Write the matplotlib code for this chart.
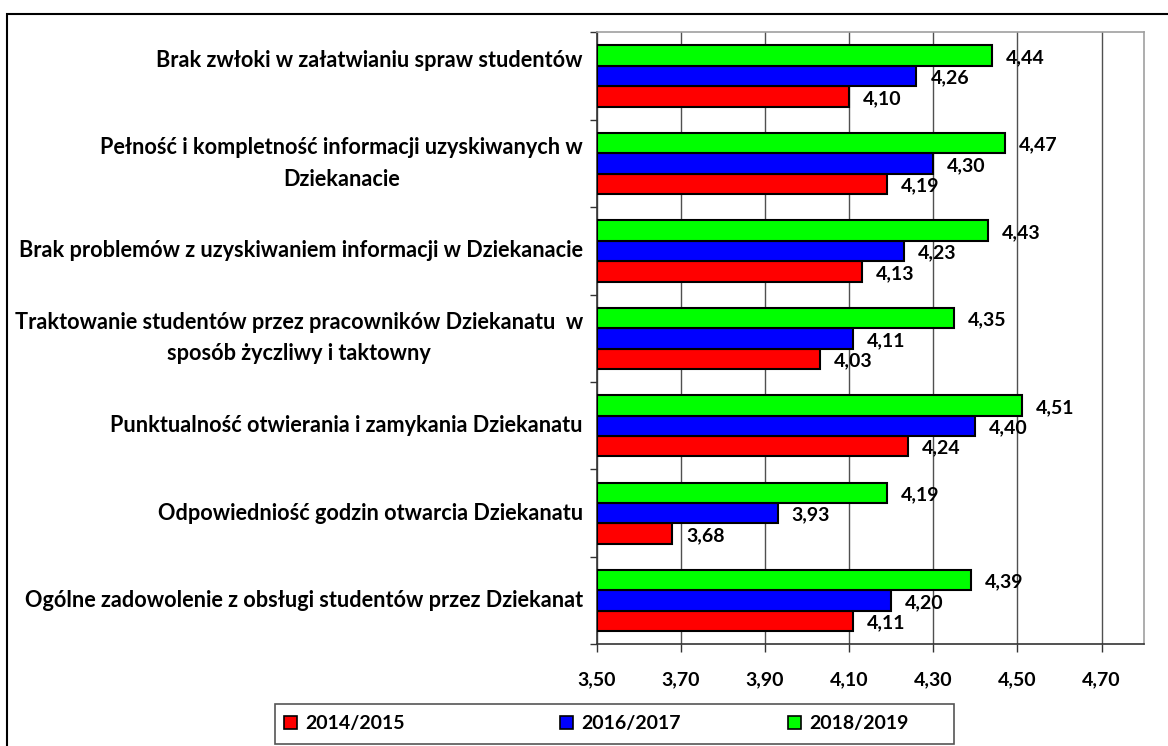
import matplotlib
matplotlib.use("Agg")
import matplotlib.pyplot as plt
from matplotlib.patches import Rectangle, Patch
from matplotlib.ticker import FixedLocator
import numpy as np

plt.rcParams['font.family'] = ['Lato', 'DejaVu Sans']

categories = [
    "Brak zwłoki w załatwianiu spraw studentów\n ",
    "Pełność i kompletność informacji uzyskiwanych w\nDziekanacie",
    "Brak problemów z uzyskiwaniem informacji w Dziekanacie",
    "Traktowanie studentów przez pracowników Dziekanatu  w\nsposób życzliwy i taktowny",
    "Punktualność otwierania i zamykania Dziekanatu",
    "Odpowiedniość godzin otwarcia Dziekanatu",
    "Ogólne zadowolenie z obsługi studentów przez Dziekanat",
]
series_names = ["2014/2015", "2016/2017", "2018/2019"]
v_2014 = [4.10, 4.19, 4.13, 4.03, 4.24, 3.68, 4.11]
v_2016 = [4.26, 4.30, 4.23, 4.11, 4.40, 3.93, 4.20]
v_2018 = [4.44, 4.47, 4.43, 4.35, 4.51, 4.19, 4.39]
x_ticks = [3.50, 3.70, 3.90, 4.10, 4.30, 4.50, 4.70]

colors = ["#FF0000", "#0000FF", "#00FF00"]
W, H = 1168, 746
fig = plt.figure(figsize=(W / 100, H / 100), dpi=100)
ax = fig.add_axes([596.7 / W, 1 - 644.3 / H, (1143.7 - 596.7) / W, (644.3 - 32.3) / H])

y = np.arange(len(categories))
bh = 0.2336
series = [v_2014, v_2016, v_2018]
offsets = [bh, 0.0, -bh]
FS_NUM = 14
FS_CAT = 15.6
for vals, off, c in zip(series, offsets, colors):
    ax.barh(y + off, np.array(vals) - 3.5, left=3.5, height=bh, color=c,
            edgecolor='black', linewidth=1.5, zorder=3)
    for yi, v in zip(y, vals):
        ax.annotate(f"{v:.2f}".replace('.', ','), xy=(v, yi + off),
                    xytext=(10, -1.5), textcoords='offset points',
                    ha='left', va='center', fontsize=FS_NUM, fontweight='bold',
                    zorder=4)

ax.set_xlim(3.5, 4.8)
ax.set_ylim(len(categories) - 0.5, -0.5)
ax.set_xticks(x_ticks)
ax.set_xticklabels([f"{t:.2f}".replace('.', ',') for t in x_ticks],
                   fontsize=FS_NUM, fontweight='bold')
ax.tick_params(axis='x', length=6, width=1, pad=13.5, direction='out', color='#333333')

# category labels
ax.set_yticks(y)
ax.set_yticklabels([])
ytrans = ax.get_yaxis_transform()
for yi, cat in zip(y, categories):
    ax.annotate(cat, xy=(0, yi), xycoords=ytrans, xytext=(-10, 0),
                textcoords='offset points', ha='right', va='center',
                multialignment='center', linespacing=1.6,
                fontsize=FS_CAT, fontweight='bold', annotation_clip=False)
ax.yaxis.set_minor_locator(FixedLocator(np.arange(-0.5, len(categories), 1.0)))
ax.tick_params(axis='y', which='major', length=0)
ax.tick_params(axis='y', which='minor', length=5, width=1, direction='out', color='#333333')
ax.grid(axis='x', color='#505050', linewidth=1, zorder=0)
ax.set_axisbelow(True)
for s in ['top', 'right']:
    ax.spines[s].set_color('#a0a0a0')
    ax.spines[s].set_linewidth(1.2)
for s in ['left', 'bottom']:
    ax.spines[s].set_color('#333333')
    ax.spines[s].set_linewidth(1.2)

# legend: frame + one entry per series at its own position
fig.patches.append(Rectangle((275 / W, 1 - 744 / H), (954 - 275) / W, 40 / H,
                             transform=fig.transFigure, fill=False,
                             edgecolor='#555555', linewidth=1.2))
entry_x = [284, 560, 788]
for c, name, ex in zip(colors, series_names, entry_x):
    fig.legend([Patch(facecolor=c, edgecolor='black', linewidth=1.2)], [name],
               loc='center left', bbox_to_anchor=(ex / W, 1 - 724 / H),
               prop={'weight': 'bold', 'size': FS_NUM}, frameon=False,
               handlelength=0.68, handleheight=0.68, handletextpad=0.4,
               borderpad=0, borderaxespad=0)

fig.patches.append(Rectangle((7.3 / W, -0.1), 1.2, (1 - 14.3 / H) + 0.1,
                             transform=fig.transFigure, fill=False,
                             edgecolor='black', linewidth=1.5))

fig.savefig("out.png", dpi=100)
